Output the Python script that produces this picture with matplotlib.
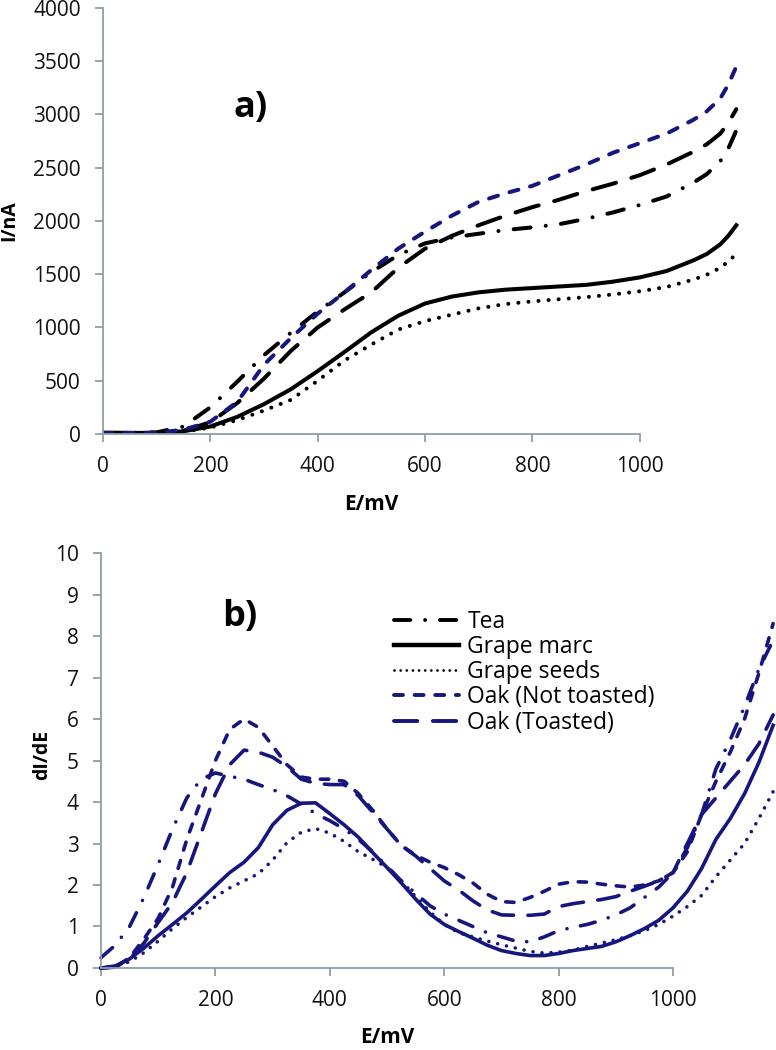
"""
Voltammograms (a) and their first derivatives (b) for five wood / plant extracts.
"""
import matplotlib
matplotlib.use('Agg')
import matplotlib.pyplot as plt
from matplotlib.lines import Line2D

plt.rcParams['font.family'] = ['Open Sans', 'DejaVu Sans']

# ── Data: panel a) current vs potential ───────────────────────────────────
E_a = [0, 50, 100, 150, 200, 250, 300, 350, 400, 450, 500, 550, 600, 650,
       700, 750, 800, 850, 900, 950, 1000, 1050, 1100, 1125, 1150, 1165, 1180]

tea_a   = [10, 10, 15, 70, 250, 490, 740, 950, 1150, 1330, 1520, 1680, 1790, 1845,
           1880, 1915, 1940, 1970, 2020, 2080, 2150, 2230, 2360, 2440, 2560, 2680, 2850]
marc_a  = [10, 10, 10, 25, 70, 160, 280, 420, 590, 770, 955, 1110, 1225, 1290,
           1330, 1355, 1370, 1385, 1400, 1430, 1470, 1530, 1630, 1690, 1780, 1860, 1960]
seeds_a = [10, 10, 10, 20, 60, 130, 220, 320, 500, 690, 840, 980, 1060, 1120,
           1180, 1220, 1245, 1265, 1285, 1310, 1340, 1380, 1450, 1495, 1560, 1620, 1690]
oakNT_a = [10, 10, 10, 40, 115, 300, 650, 900, 1130, 1330, 1540, 1740, 1900, 2050,
           2180, 2260, 2330, 2430, 2530, 2640, 2730, 2820, 2950, 3030, 3150, 3280, 3450]
oakT_a  = [10, 10, 10, 30, 110, 290, 520, 780, 1000, 1170, 1330, 1560, 1740, 1860,
           1960, 2050, 2130, 2200, 2280, 2350, 2430, 2530, 2650, 2720, 2820, 2920, 3050]

# ── Data: panel b) derivative dI/dE ───────────────────────────────────────
E_b = list(range(0, 1176, 25))

tea_b   = [0.25, 0.55, 1.0, 1.7, 2.5, 3.35, 4.1, 4.55, 4.7, 4.62, 4.55, 4.42,
           4.3, 4.15, 3.95, 3.72, 3.55, 3.35, 3.1, 2.8, 2.45, 2.1, 1.8, 1.5,
           1.3, 1.15, 1.0, 0.85, 0.75, 0.65, 0.63, 0.75, 0.9, 0.98, 1.05, 1.15,
           1.28, 1.45, 1.7, 1.95, 2.3, 2.9, 3.7, 4.8, 5.5, 6.3, 7.2, 7.9]
marc_b  = [0.0, 0.05, 0.22, 0.48, 0.78, 1.05, 1.33, 1.65, 1.98, 2.3, 2.55, 2.9,
           3.45, 3.8, 3.97, 3.98, 3.72, 3.45, 3.15, 2.78, 2.42, 2.05, 1.66, 1.3,
           1.05, 0.88, 0.72, 0.55, 0.42, 0.35, 0.3, 0.3, 0.35, 0.42, 0.47, 0.52,
           0.63, 0.78, 0.95, 1.15, 1.45, 1.85, 2.4, 3.1, 3.6, 4.2, 4.95, 5.85]
seeds_b = [0.0, 0.05, 0.15, 0.37, 0.65, 0.95, 1.22, 1.47, 1.72, 1.93, 2.1, 2.27,
           2.6, 3.02, 3.27, 3.36, 3.25, 3.05, 2.8, 2.62, 2.42, 2.1, 1.72, 1.35,
           1.05, 0.85, 0.75, 0.65, 0.56, 0.48, 0.4, 0.36, 0.38, 0.43, 0.52, 0.6,
           0.68, 0.78, 0.9, 1.05, 1.25, 1.48, 1.75, 2.2, 2.6, 3.0, 3.6, 4.25]
oakNT_b = [0.0, 0.02, 0.25, 0.7, 1.2, 1.95, 3.1, 4.05, 5.0, 5.75, 6.0, 5.8,
           5.35, 4.9, 4.6, 4.55, 4.55, 4.5, 4.2, 3.8, 3.35, 2.95, 2.72, 2.55,
           2.42, 2.25, 2.05, 1.78, 1.6, 1.58, 1.7, 1.85, 2.02, 2.08, 2.07, 2.02,
           1.98, 1.95, 2.0, 2.1, 2.3, 2.8, 3.7, 4.5, 5.2, 6.0, 7.1, 8.3]
oakT_b  = [0.0, 0.02, 0.22, 0.6, 1.1, 1.58, 2.3, 3.25, 4.2, 4.9, 5.25, 5.2,
           5.08, 4.85, 4.55, 4.45, 4.42, 4.42, 4.15, 3.75, 3.35, 2.95, 2.7, 2.4,
           2.1, 1.88, 1.62, 1.4, 1.28, 1.27, 1.27, 1.3, 1.48, 1.55, 1.6, 1.65,
           1.72, 1.85, 1.97, 2.1, 2.3, 3.0, 3.7, 4.1, 4.5, 4.9, 5.4, 6.1]

labels = ['Tea', 'Grape marc', 'Grape seeds', 'Oak (Not toasted)', 'Oak (Toasted)']

# ── Styles ────────────────────────────────────────────────────────────────
NAVY  = '#16167e'
BLACK = '#000000'
GREY  = '#8f9ea6'

st_tea   = dict(ls=(0, (4.2, 3.8, 0.01, 3.8)), dash_capstyle='round')
st_marc  = dict(ls='-')
st_seeds = dict(ls=(0, (0.01, 2.5)), dash_capstyle='round')
st_nt    = dict(ls=(0, (2.3, 3.0)), dash_capstyle='round')
st_t     = dict(ls=(0, (6.0, 4.0)), dash_capstyle='round')


def style_axes(ax, xmax, ymax, ystep):
    ax.set_xlim(0, xmax)
    ax.set_ylim(0, ymax)
    ax.set_xticks(range(0, 1001, 200))
    ax.set_yticks([ystep * k for k in range(int(round(ymax / ystep)) + 1)])
    for s in ('top', 'right'):
        ax.spines[s].set_visible(False)
    for s in ('left', 'bottom'):
        ax.spines[s].set_color(GREY)
        ax.spines[s].set_linewidth(1.3)
    ax.spines['bottom'].set_bounds(0, 1000)
    ax.tick_params(direction='out', length=6, width=1.3, color=GREY,
                   labelsize=15, pad=10, labelcolor='#111111')
    ax.patch.set_alpha(0)


fig = plt.figure(figsize=(7.76, 10.5), dpi=100)

# ── Panel a ──────────────────────────────────────────────────────────────
ax1 = fig.add_axes([0.1327, 0.5867, 0.830, 0.4057])
lw_a = 2.9
ax1.plot(E_a, tea_a,   color=BLACK, lw=lw_a, **st_tea)
ax1.plot(E_a, marc_a,  color=BLACK, lw=lw_a, **st_marc)
ax1.plot(E_a, seeds_a, color=BLACK, lw=lw_a, **st_seeds)
ax1.plot(E_a, oakT_a,  color=BLACK, lw=lw_a, **st_t)
ax1.plot(E_a, oakNT_a, color=NAVY,  lw=lw_a, **st_nt)
style_axes(ax1, 1200, 4000, 500)
ax1.set_xlabel('E/mV', fontsize=15, fontweight='bold')
ax1.set_ylabel('I/nA', fontsize=14, fontweight='bold')
ax1.xaxis.set_label_coords(0.416, -0.141)
ax1.yaxis.set_label_coords(-0.130, 0.5)
ax1.text(276, 3060, 'a)', fontsize=26, fontweight='bold', ha='center', va='center')

# ── Panel b ──────────────────────────────────────────────────────────────
ax2 = fig.add_axes([0.1302, 0.0781, 0.8698, 0.3952])
for y, st in zip([tea_b, marc_b, seeds_b, oakNT_b, oakT_b],
                 [st_tea, st_marc, st_seeds, st_nt, st_t]):
    ax2.plot(E_b, y, color=NAVY, lw=2.6, clip_on=False, **st)
style_axes(ax2, 1180, 10, 1)
ax2.set_xlabel('E/mV', fontsize=15, fontweight='bold')
ax2.set_ylabel('dI/dE', fontsize=14, fontweight='bold')
ax2.xaxis.set_label_coords(0.424, -0.142)
ax2.yaxis.set_label_coords(-0.072, 0.513)
ax2.text(243, 8.46, 'b)', fontsize=26, fontweight='bold', ha='center', va='center')

handles = [Line2D([], [], color=BLACK, lw=2.8, **st_tea),
           Line2D([], [], color=BLACK, lw=3.2, ls='-'),
           Line2D([], [], color=BLACK, lw=2.0, ls=(0, (0.01, 2.2)), dash_capstyle='round'),
           Line2D([], [], color=NAVY, lw=2.8, **st_nt),
           Line2D([], [], color=NAVY, lw=2.8, **st_t)]
ax2.legend(handles, labels, loc='upper left', bbox_to_anchor=(394 / 776, 1 - 610 / 1050),
           bbox_transform=fig.transFigure, frameon=False, fontsize=16.5,
           handlelength=2.85, handletextpad=0.35, labelspacing=0.05, borderpad=0,
           borderaxespad=0)

plt.savefig('out.png', dpi=100)
plt.close()
print("Saved out.png")
